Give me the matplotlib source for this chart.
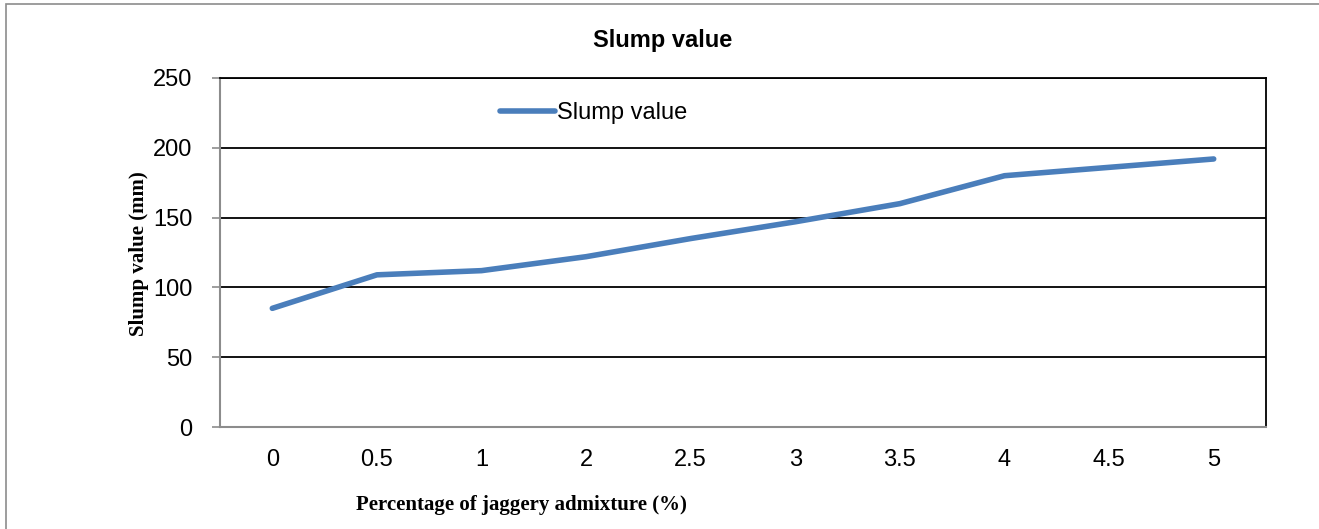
"""
Slump value against percentage of jaggery admixture (line chart, Excel style)
"""
#%% Import libraries ###########################################################
import matplotlib
matplotlib.use('Agg')
import matplotlib.pyplot as plt
from matplotlib.patches import Rectangle

#%% Data #######################################################################
jaggery_pct = ['0', '0.5', '1', '2', '2.5', '3', '3.5', '4', '4.5', '5']
slump_mm = [85, 109, 112, 122, 135, 147, 160, 180, 186, 192]
y_ticks = [0, 50, 100, 150, 200, 250]

SANS = ['Liberation Sans Narrow', 'Liberation Sans', 'DejaVu Sans']
SERIF = ['Liberation Serif', 'DejaVu Serif']
LINE_BLUE = '#4A7EBB'

#%% Plot #######################################################################
def main():
    W, H = 1319, 529
    fig = plt.figure(figsize=(W / 100, H / 100), dpi=100)

    # outer chart border (Excel chart area)
    fig.patches.append(Rectangle((6 / W, -0.1), 1.2, 1 - 4 / H + 0.1,
                                 transform=fig.transFigure, fill=False,
                                 edgecolor='#8c8c8c', linewidth=1.2))

    left, right, top, bottom = 220, 1266, 78, 427
    ax = fig.add_axes([left / W, 1 - bottom / H, (right - left) / W, (bottom - top) / H])

    x = list(range(len(jaggery_pct)))
    ax.plot(x, slump_mm, color=LINE_BLUE, linewidth=4, solid_capstyle='round',
            label='Slump value', zorder=3)

    ax.set_xlim(-0.5, len(jaggery_pct) - 0.5)
    ax.set_ylim(0, 250)
    ax.set_xticks(x)
    ax.set_xticklabels(jaggery_pct, family=SANS, fontsize=17)
    ax.set_yticks(y_ticks)
    ax.set_yticklabels([str(v) for v in y_ticks], family=SANS, fontsize=17)
    ax.tick_params(axis='x', length=0, pad=16)
    ax.tick_params(axis='y', length=5.8, width=1.2, color='#8c8c8c', pad=14)

    ax.grid(axis='y', color='black', linewidth=1.3, zorder=1)
    ax.set_axisbelow(True)
    for side in ['left', 'bottom']:
        ax.spines[side].set_color('#8c8c8c')
        ax.spines[side].set_linewidth(1.5)
    for side in ['top', 'right']:
        ax.spines[side].set_color('black')
        ax.spines[side].set_linewidth(1.3)

    fig.text(663 / W, 1 - 41 / H, 'Slump value', family=SANS, fontsize=17,
             fontweight='bold', ha='center', va='center')
    fig.text(139 / W, 1 - 254 / H, 'Slump value (mm)', family=SERIF, fontsize=15,
             fontweight='bold', rotation=90, ha='center', va='center')
    fig.text(521 / W, 1 - 505 / H, 'Percentage of jaggery admixture (%)', family=SERIF,
             fontsize=15, fontweight='bold', ha='center', va='center')

    ax.legend(loc='center left', bbox_to_anchor=(0.259, 0.9), frameon=False,
              handlelength=2.3, handletextpad=0.1, borderaxespad=0,
              prop={'family': SANS, 'size': 17})

    fig.savefig('out.png', dpi=100)

#%% Run main ###################################################################
if __name__ == '__main__':
    main()
